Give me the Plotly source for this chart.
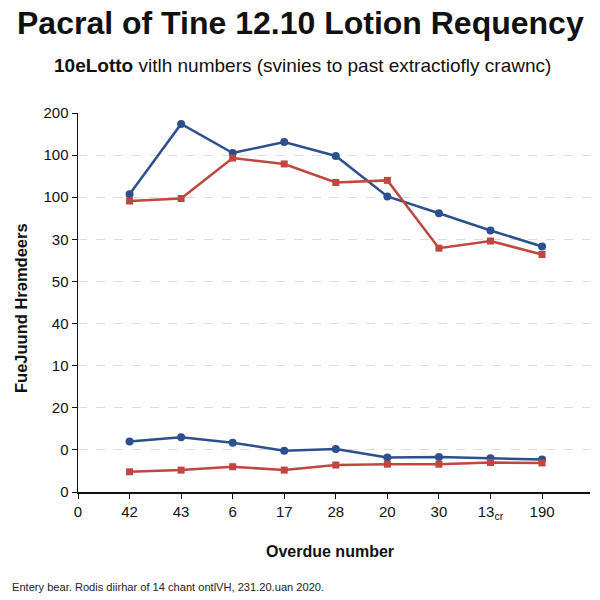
import plotly.graph_objects as go

x_labels = ["0", "42", "43", "6", "17", "28", "20", "30", "13<sub>cr</sub>", "190"]
y_labels = ["0", "0", "20", "10", "40", "50", "30", "100", "100", "200"]

x_pos = [1, 2, 3, 4, 5, 6, 7, 8, 9]

blue_upper = [7.07, 8.74, 8.05, 8.31, 7.98, 7.02, 6.62, 6.21, 5.83]
red_upper = [6.91, 6.97, 7.93, 7.79, 7.35, 7.40, 5.79, 5.96, 5.64]
blue_lower = [1.20, 1.30, 1.17, 0.98, 1.02, 0.82, 0.83, 0.80, 0.77]
red_lower = [0.48, 0.52, 0.60, 0.52, 0.64, 0.66, 0.66, 0.70, 0.69]

BLUE = "#2c4f8e"
RED = "#c0473f"

ML, MR, MT, MB = 78, 10, 113, 108
PW = 600 - ML - MR
PH = 600 - MT - MB


def px(xp):
    return (xp - ML) / PW


def py(yp):
    return (600 - MB - yp) / PH


fig = go.Figure()
for ys, color, sym, size in [
    (blue_upper, BLUE, "circle", 8),
    (red_upper, RED, "square", 7),
    (blue_lower, BLUE, "circle", 8),
    (red_lower, RED, "square", 7),
]:
    fig.add_trace(go.Scatter(
        x=x_pos, y=ys, mode="lines+markers",
        line=dict(color=color, width=2.5),
        marker=dict(color=color, symbol=sym, size=size),
        showlegend=False, hoverinfo="skip",
    ))

font_family = "Liberation Sans, Arial, sans-serif"

fig.update_layout(
    width=600, height=600,
    margin=dict(l=ML, r=MR, t=MT, b=MB),
    paper_bgcolor="white", plot_bgcolor="white",
    font=dict(family=font_family, color="#111111"),
    xaxis=dict(
        range=[0, 9.93], tickmode="array", tickvals=list(range(10)), ticktext=x_labels,
        showgrid=False, zeroline=False, showline=True, linecolor="#111111", linewidth=1.5,
        ticks="outside", ticklen=5, tickcolor="#111111", tickfont=dict(size=15),
        automargin=False,
    ),
    yaxis=dict(
        range=[0, 9], tickmode="array", tickvals=list(range(10)), ticktext=y_labels,
        showgrid=True, gridcolor="#dcdcdc", griddash="dash", gridwidth=1,
        zeroline=False, showline=True, linecolor="#111111", linewidth=1.5,
        ticks="outside", ticklen=5, tickcolor="#111111", tickfont=dict(size=15),
        automargin=False,
    ),
    annotations=[
        dict(text="<b>Pacral of Tine 12.10 Lotion Requency</b>", x=px(300), y=py(23),
             xref="paper", yref="paper", xanchor="center", yanchor="middle",
             showarrow=False, font=dict(size=32, color="#111111")),
        dict(text="<b>10eLotto</b> vitlh numbers (svinies to past extractiofly crawnc)",
             x=px(302), y=py(66), xref="paper", yref="paper", xanchor="center", yanchor="middle",
             showarrow=False, font=dict(size=19, color="#111111")),
        dict(text="<b>FueJuund Hrəmdeers</b>", x=px(21), y=py(308),
             xref="paper", yref="paper", xanchor="center", yanchor="middle", textangle=-90,
             showarrow=False, font=dict(size=16.5, color="#111111")),
        dict(text="<b>Overdue number</b>", x=px(330), y=py(551),
             xref="paper", yref="paper", xanchor="center", yanchor="middle",
             showarrow=False, font=dict(size=16, color="#111111")),
        dict(text="Entery bear. Rodis diirhar of 14 chant ontlVH, 231.20.uan 2020.",
             x=px(10), y=py(587), xref="paper", yref="paper", xanchor="left", yanchor="middle",
             showarrow=False, font=dict(size=11.1, color="#222222")),
    ],
)

fig.write_html(
    "out.html",
    config={"displayModeBar": False, "staticPlot": True},
    post_script="document.body.style.margin='0';document.body.style.overflow='hidden';",
)
